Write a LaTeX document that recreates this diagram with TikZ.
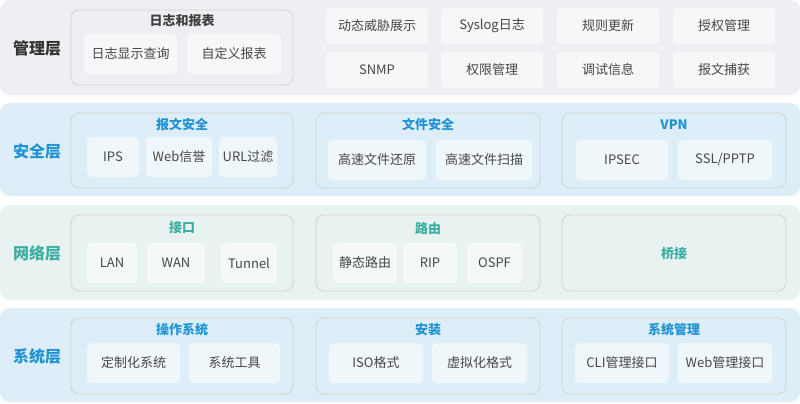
\documentclass[tikz,border=0pt]{standalone}
\usepackage{fontspec}
\setmainfont{Noto Sans CJK SC}
\begin{document}
\begin{tikzpicture}[x=1pt,y=-1pt,
  band/.style={rounded corners=10pt,draw=none},
  grp/.style={rounded corners=8pt,draw=black!18,line width=0.8pt},
  item/.style={rounded corners=4pt,fill=white,fill opacity=0.55,text opacity=1,text=black!72,font=\fontsize{13}{15}\selectfont},
  gtitle/.style={font=\fontsize{13}{15}\selectfont\bfseries},
  layer/.style={font=\fontsize{16}{18}\selectfont\bfseries}]
\definecolor{gbg}{HTML}{EFEFF3}
\definecolor{bbg}{HTML}{DDEEF8}
\definecolor{tbg}{HTML}{E7F2F1}
\definecolor{bl}{HTML}{1F93D3}
\definecolor{tl}{HTML}{3DAEA3}
\useasboundingbox (0,0) rectangle (800,404);
\fill[gbg,band] (0,0) rectangle (800,95);
\fill[bbg,band] (0,103) rectangle (800,196);
\fill[tbg,band] (0,205) rectangle (800,300);
\fill[bbg,band] (0,308) rectangle (800,402);
\node[layer,text=black!80] (L1) at (37,48) {管理层};
\node[layer,text=bl] (L2) at (37,151) {安全层};
\node[layer,text=tl] (L3) at (37,253) {网络层};
\node[layer,text=bl] (L4) at (37,356) {系统层};
% mgmt
\draw[grp] (71,10) rectangle (293,85);
\node[gtitle,text=black!75] (g1) at (182,21) {日志和报表};
\newcommand\itm[6]{\node[item,minimum width=#3-#2,minimum height=#5-#4] (#1) at ({(#2+#3)/2},{(#4+#5)/2}) {#6};}
\itm{a1}{84}{177}{34}{74}{日志显示查询}
\itm{a2}{187}{281}{34}{74}{自定义报表}
\itm{b1}{326}{428}{8}{44}{动态威胁展示}
\itm{b2}{441}{543}{8}{44}{Syslog日志}
\itm{b3}{557}{659}{8}{44}{规则更新}
\itm{b4}{673}{775}{8}{44}{授权管理}
\itm{b5}{326}{428}{52}{88}{SNMP}
\itm{b6}{441}{543}{52}{88}{权限管理}
\itm{b7}{557}{659}{52}{88}{调试信息}
\itm{b8}{673}{775}{52}{88}{报文捕获}
% security
\draw[grp] (71,113) rectangle (293,188);
\draw[grp] (316,113) rectangle (540,188);
\draw[grp] (562,113) rectangle (786,188);
\node[gtitle,text=bl] (g2) at (182,125) {报文安全};
\node[gtitle,text=bl] (g3) at (428,125) {文件安全};
\node[gtitle,text=bl] (g4) at (674,125) {VPN};
\itm{c1}{87}{139}{137}{177}{IPS}
\itm{c2}{146}{212}{137}{177}{Web信誉}
\itm{c3}{219}{277}{137}{177}{URL过滤}
\itm{c4}{328}{426}{140}{180}{高速文件还原}
\itm{c5}{436}{532}{140}{180}{高速文件扫描}
\itm{c6}{576}{668}{140}{180}{IPSEC}
\itm{c7}{678}{772}{140}{180}{SSL/PPTP}
% network
\draw[grp] (71,215) rectangle (293,291);
\draw[grp] (316,215) rectangle (540,291);
\draw[grp] (562,215) rectangle (786,291);
\node[gtitle,text=tl] (g5) at (182,228) {接口};
\node[gtitle,text=tl] (g6) at (428,229) {路由};
\node[gtitle,text=tl] (g7) at (674,254) {桥接};
\itm{d1}{87}{137}{243}{283}{LAN}
\itm{d2}{147}{205}{243}{283}{WAN}
\itm{d3}{221}{277}{243}{283}{Tunnel}
\itm{d4}{333}{397}{243}{283}{静态路由}
\itm{d5}{403}{457}{243}{283}{RIP}
\itm{d6}{467}{522}{243}{283}{OSPF}
% system
\draw[grp] (71,318) rectangle (293,394);
\draw[grp] (316,318) rectangle (540,394);
\draw[grp] (562,318) rectangle (786,394);
\node[gtitle,text=bl] (g8) at (182,330) {操作系统};
\node[gtitle,text=bl] (g9) at (428,330) {安装};
\node[gtitle,text=bl] (g10) at (674,330) {系统管理};
\itm{e1}{87}{180}{343}{383}{定制化系统}
\itm{e2}{189}{280}{343}{383}{系统工具}
\itm{e3}{329}{423}{343}{383}{ISO格式}
\itm{e4}{432}{527}{343}{383}{虚拟化格式}
\itm{e5}{575}{669}{343}{383}{CLI管理接口}
\itm{e6}{678}{772}{343}{383}{Web管理接口}
\end{tikzpicture}
\end{document}
